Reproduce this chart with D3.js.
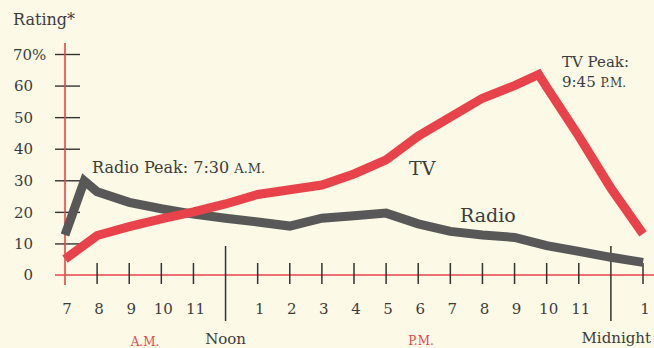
<!DOCTYPE html>
<html>
<head>
<meta charset="utf-8">
<script src="https://cdn.jsdelivr.net/npm/d3@7"></script>
<style>
  html, body { margin: 0; padding: 0; background: #fcfae6; }
  svg { display: block; }
  text { font-family: "DejaVu Serif", serif; fill: #3c3c3c; }
</style>
</head>
<body>
<svg id="chart" width="654" height="348"></svg>
<script>
// ---- data (hours: 7 = 7 A.M., 12 = noon, 24 = midnight, 25 = 1 A.M.) ----
const radioHours  = [7, 7.6, 8, 9, 10, 11, 12, 13, 14, 15, 16, 17, 18, 19, 20, 21, 22, 23, 24, 25];
const radioValues = [12.7, 29.8, 26.4, 23, 21, 19.3, 18, 16.8, 15.5, 18, 18.8, 19.6, 16.2, 13.8, 12.7, 11.9, 9.3, 7.5, 5.6, 4.0];
const tvHours  = [7, 8, 9, 10, 11, 12, 13, 14, 15, 16, 17, 18, 19, 20, 21, 21.75, 22, 23, 24, 25];
const tvValues = [5, 12.5, 15.3, 17.8, 20, 22.5, 25.5, 27, 28.5, 32, 36.5, 44, 50, 56, 60, 63.5, 59.5, 44, 27.5, 13];
const hourTicks = [8, 9, 10, 11, 13, 14, 15, 16, 17, 18, 19, 20, 21, 22, 23, 25];
const hourLabelHours = [7, 8, 9, 10, 11, 13, 14, 15, 16, 17, 18, 19, 20, 21, 22, 23, 25];
const dividerHours = [12, 24];
const dividerLabels = ["Noon", "Midnight"];
const yTicks = [0, 10, 20, 30, 40, 50, 60, 70];

const svg = d3.select("#chart");
const x = d3.scaleLinear().domain([7, 25]).range([65, 643]);
const y = d3.scaleLinear().domain([0, 70]).range([275, 54]);

const RED = "#e8434b", GRAY = "#585858", INK = "#333";

// y axis (red line) with crossing ticks
const yAxis = svg.append("g").attr("transform", `translate(${x(7)},0)`)
  .call(d3.axisLeft(y).tickValues(yTicks.filter(d => d > 0)).tickSize(0).tickFormat(d => d === 70 ? "70%" : d));
yAxis.select(".domain").remove();
yAxis.selectAll(".tick line").attr("x1", -10).attr("x2", 15).attr("stroke", INK).attr("stroke-width", 1.4);
yAxis.selectAll(".tick text")
  .attr("font-family", "DejaVu Serif").attr("font-size", 15).attr("fill", "#3c3c3c")
  .attr("text-anchor", d => d === 70 ? "start" : "end")
  .attr("x", d => d === 70 ? -52 : -32).attr("dy", "0.35em");
// zero label
svg.append("text").attr("x", 33).attr("y", y(0)).attr("dy", "0.35em")
  .attr("text-anchor", "end").attr("font-size", 15).text("0");

svg.append("line").attr("x1", x(7)).attr("x2", x(7)).attr("y1", 43).attr("y2", 285)
  .attr("stroke", RED).attr("stroke-width", 1.6);

// x axis red line
svg.append("line").attr("x1", 55).attr("x2", 654).attr("y1", y(0)).attr("y2", y(0))
  .attr("stroke", RED).attr("stroke-width", 1.6);

// hour ticks
svg.append("g").selectAll("line").data(hourTicks).join("line")
  .attr("x1", d => x(d)).attr("x2", d => x(d))
  .attr("y1", y(0) - 12).attr("y2", y(0) + 9)
  .attr("stroke", INK).attr("stroke-width", 1.5);

// dividers
svg.append("g").selectAll("line").data(dividerHours).join("line")
  .attr("x1", d => x(d)).attr("x2", d => x(d))
  .attr("y1", 246).attr("y2", 321)
  .attr("stroke", INK).attr("stroke-width", 1.5);

// hour labels
svg.append("g").selectAll("text").data(hourLabelHours).join("text")
  .attr("x", d => x(d) + 2).attr("y", 314)
  .attr("text-anchor", "middle").attr("font-size", 15)
  .text(d => ((d - 1) % 12) + 1);

// divider labels
svg.append("text").attr("x", x(12)).attr("y", 344).attr("text-anchor", "middle")
  .attr("font-size", 15).text(dividerLabels[0]);
svg.append("text").attr("x", 651).attr("y", 343).attr("text-anchor", "end")
  .attr("font-size", 15).text(dividerLabels[1]);

// A.M. / P.M.
svg.append("text").attr("x", 145).attr("y", 346).attr("text-anchor", "middle")
  .attr("font-size", 12).style("fill", RED).text("A.M.");
svg.append("text").attr("x", 421).attr("y", 345).attr("text-anchor", "middle")
  .attr("font-size", 12).style("fill", RED).text("P.M.");

// Rating label
svg.append("text").attr("x", 13).attr("y", 25).attr("font-size", 16).text("Rating*");

// lines
const line = d3.line().x(d => x(d[0])).y(d => y(d[1]));
svg.append("path").datum(d3.zip(radioHours, radioValues))
  .attr("d", line).attr("fill", "none").attr("stroke", GRAY)
  .attr("stroke-width", 9).attr("stroke-linejoin", "miter");
svg.append("path").datum(d3.zip(tvHours, tvValues))
  .attr("d", line).attr("fill", "none").attr("stroke", RED)
  .attr("stroke-width", 9).attr("stroke-linejoin", "miter");

// annotations
const rp = svg.append("text").attr("x", 92).attr("y", 173).attr("font-size", 16);
rp.append("tspan").text("Radio Peak: 7:30 ");
rp.append("tspan").attr("font-size", 13).text("A.M.");

svg.append("text").attr("x", 409).attr("y", 175).attr("font-size", 19).text("TV");
svg.append("text").attr("x", 460).attr("y", 222).attr("font-size", 19).text("Radio");

svg.append("text").attr("x", 562).attr("y", 67).attr("font-size", 15).text("TV Peak:");
const tp = svg.append("text").attr("x", 562).attr("y", 87).attr("font-size", 15);
tp.append("tspan").text("9:45 ");
tp.append("tspan").attr("font-size", 12).text("P.M.");
</script>
</body>
</html>
